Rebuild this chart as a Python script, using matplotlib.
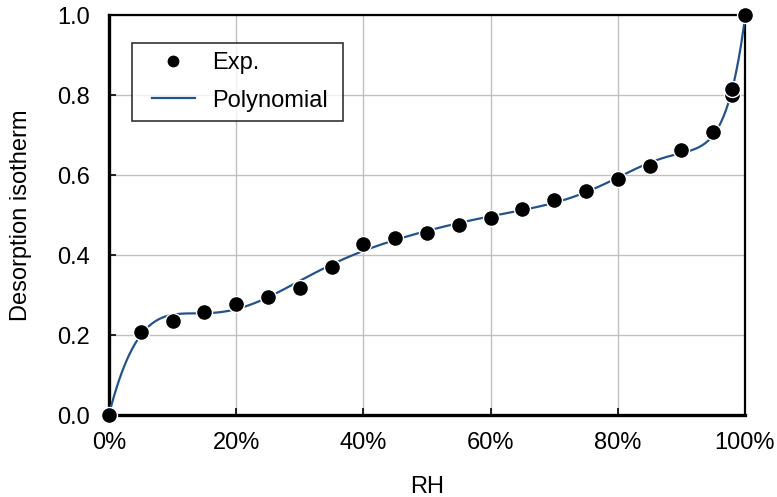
import numpy as np
import matplotlib
matplotlib.use("Agg")
import matplotlib.pyplot as plt
from matplotlib.ticker import FuncFormatter
from matplotlib.legend_handler import HandlerLine2D

# Experimental desorption isotherm (relative humidity as fraction)
rh = [0.00, 0.05, 0.10, 0.15, 0.20, 0.25, 0.30, 0.35, 0.40, 0.45, 0.50,
      0.55, 0.60, 0.65, 0.70, 0.75, 0.80, 0.85, 0.90, 0.95, 0.98, 0.98, 1.00]
moisture = [0.000, 0.208, 0.236, 0.258, 0.277, 0.296, 0.318, 0.371, 0.427,
            0.442, 0.456, 0.474, 0.493, 0.514, 0.537, 0.561, 0.589, 0.622,
            0.662, 0.708, 0.800, 0.815, 1.000]

poly_degree = 10
x_ticks = [0.0, 0.2, 0.4, 0.6, 0.8, 1.0]
y_ticks = [0.0, 0.2, 0.4, 0.6, 0.8, 1.0]

plt.rcParams["font.family"] = ["Liberation Sans", "DejaVu Sans"]
FS = 17


class InsetHandler(HandlerLine2D):
    """Legend handle whose line starts a little inside the handle box."""

    def get_xdata(self, legend, xdescent, ydescent, width, height, fontsize):
        x0 = -xdescent + 0.45 * fontsize
        x1 = -xdescent + width
        return np.array([x0, x1]), np.array([(x0 + x1) / 2])


fig = plt.figure(figsize=(7.77, 4.97), dpi=100)
ax = fig.add_axes([109 / 777, 1 - 415 / 497, (745 - 109) / 777, (415 - 15) / 497])

# Polynomial trendline fitted to the measurements
fit = np.polynomial.polynomial.Polynomial.fit(rh, moisture, poly_degree)
xs = np.linspace(0, 1, 500)
line, = ax.plot(xs, fit(xs), color="#24528a", lw=1.6, zorder=3,
                label="Polynomial")
pts, = ax.plot(rh, moisture, "o", color="black", ms=11.5, mec="white",
               mew=1.0, zorder=4, label="Exp.", clip_on=False)

ax.set_xlim(0, 1)
ax.set_ylim(0, 1)
ax.set_xticks(x_ticks)
ax.set_yticks(y_ticks)
ax.xaxis.set_major_formatter(FuncFormatter(lambda v, p: f"{v * 100:.0f}%"))
ax.yaxis.set_major_formatter(FuncFormatter(lambda v, p: f"{v:.1f}"))
ax.grid(True, color="#c0c0c0", lw=1.0)
ax.set_axisbelow(True)
ax.tick_params(direction="in", length=5, width=1.2, labelsize=FS,
               colors="black")
ax.tick_params(axis="x", pad=12)
ax.tick_params(axis="y", pad=14)
for side in ("left", "bottom"):
    ax.spines[side].set_linewidth(2.4)
for side in ("top", "right"):
    ax.spines[side].set_linewidth(1.6)

ax.set_xlabel("RH", fontsize=FS, labelpad=16)
ax.set_ylabel("Desorption isotherm", fontsize=FS, labelpad=18)

leg = ax.legend([pts, line], ["Exp.", "Polynomial"], loc="upper left",
                bbox_to_anchor=(23 / 636, 1 - 28 / 400 - 0.01, 211 / 636, 0.01),
                mode="expand", fontsize=FS, frameon=True, fancybox=False,
                edgecolor="black", borderpad=0.4, labelspacing=0.64,
                handlelength=2.25, handletextpad=0.75, borderaxespad=0,
                handler_map={line: InsetHandler(), pts: InsetHandler()})
leg.get_frame().set_linewidth(1.2)
leg.legend_handles[0].set_markersize(8.5)
leg.legend_handles[0].set_markeredgewidth(0)

fig.savefig("out.png", dpi=100)
